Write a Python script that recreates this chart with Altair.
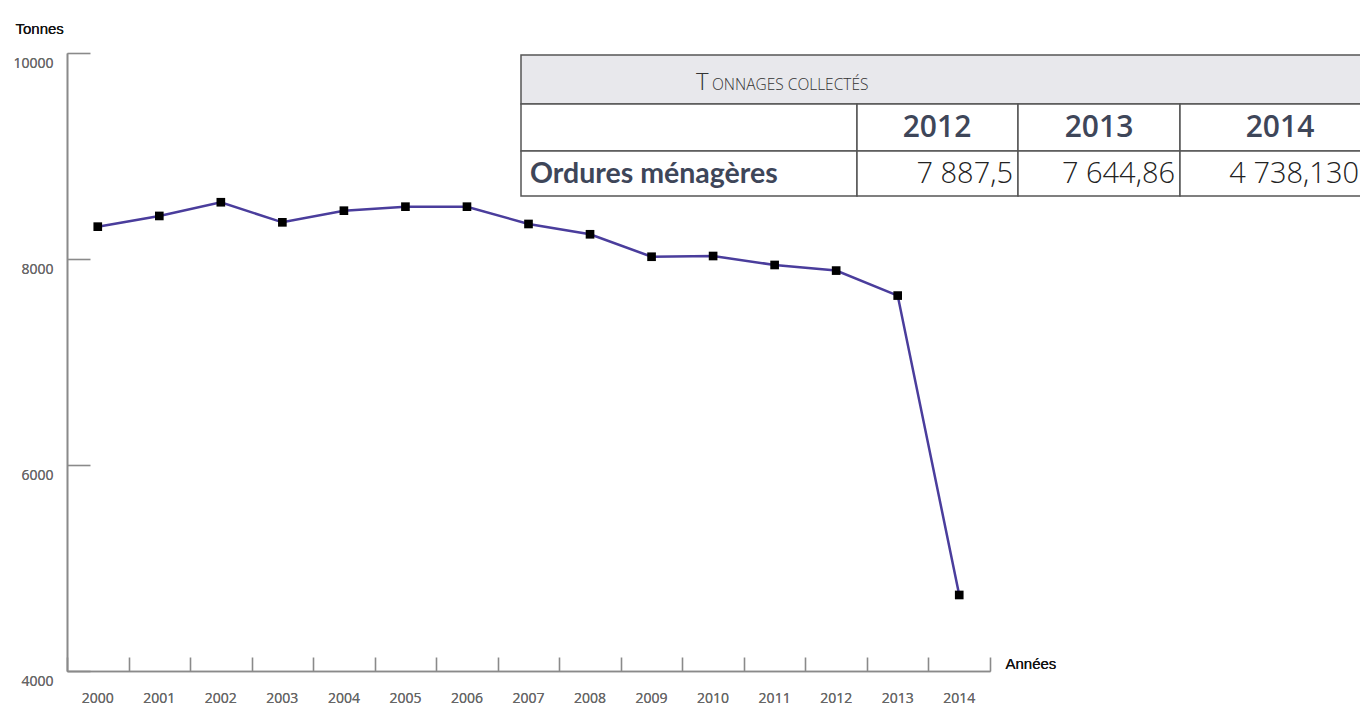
import altair as alt
import pandas as pd

years = ["2000", "2001", "2002", "2003", "2004", "2005", "2006", "2007",
         "2008", "2009", "2010", "2011", "2012", "2013", "2014"]
tonnes = [8314, 8418, 8551, 8356, 8469, 8508, 8508, 8340,
          8240, 8022, 8029, 7942, 7887.5, 7644.86, 4738.13]
y_ticks = [4000, 6000, 8000, 10000]

table_title_first = "T"
table_title_rest = "ONNAGES COLLECTÉS"
table_years = ["2012", "2013", "2014"]
table_row_label = "Ordures ménagères"
table_values = ["7 887,5", "7 644,86", "4 738,130"]

df = pd.DataFrame({"year": years, "value": tonnes})

W, H = 923, 618
AXIS_COLOR = "#8a8a8a"
LABEL_FONT = "Open Sans"
LABEL_COLOR = "#666666"

x_scale = alt.Scale(type="band", paddingInner=0, paddingOuter=0)
y_scale = alt.Scale(domain=[4000, 10000], nice=False, zero=False)

main_x_axis = alt.Axis(
    orient="bottom",
    labelAngle=0, labelFont=LABEL_FONT, labelFontSize=14, labelColor=LABEL_COLOR,
    labelPadding=20, ticks=False, tickSize=0, domain=True, domainColor=AXIS_COLOR,
    domainWidth=1.6, grid=False, title="Années", titleX=938, titleY=-8,
    titleAlign="left", titleBaseline="middle", titleFont="Liberation Sans",
    titleFontSize=15, titleFontWeight=400, titleColor="#111",
)
main_y_axis = alt.Axis(
    orient="left",
    values=y_ticks, format="d", labelFont=LABEL_FONT, labelFontSize=14,
    labelColor=LABEL_COLOR, labelPadding=14, labelOffset=10, ticks=False, tickSize=0,
    domain=True, domainColor=AXIS_COLOR, domainWidth=1.6, grid=False,
    title="Tonnes", titleAngle=0, titleX=-52, titleY=-25, titleAlign="left",
    titleBaseline="middle", titleFont="Liberation Sans", titleFontSize=15,
    titleFontWeight=400, titleColor="#111",
)
tick_x_axis = alt.Axis(
    orient="bottom",
    labels=False, domain=False, ticks=True, tickSize=14, offset=-14,
    tickBand="extent", tickColor=AXIS_COLOR, tickWidth=1.6, grid=False, title=None,
)
tick_y_axis = alt.Axis(
    orient="left",
    values=y_ticks, labels=False, domain=False, ticks=True, tickSize=23,
    offset=-23, tickColor=AXIS_COLOR, tickWidth=1.6, grid=False, title=None,
)

base = alt.Chart(df).encode(
    x=alt.X("year:O", scale=x_scale, axis=main_x_axis),
    y=alt.Y("value:Q", scale=y_scale, axis=main_y_axis),
)
line = base.mark_line(color="#4a3d9c", strokeWidth=2.5)
pts = base.mark_square(size=75, color="#000", opacity=1, filled=True)

ticks = alt.Chart(df).mark_point(opacity=0).encode(
    x=alt.X("year:O", scale=x_scale, axis=tick_x_axis),
    y=alt.Y("value:Q", scale=y_scale, axis=tick_y_axis),
)

# ---- table (layout in pixels relative to the plot area) ----
one = pd.DataFrame({"k": [0]})
col_edges = [454, 790, 951, 1113, 1320]
row_edges = [2, 51, 98, 143]
BORDER = "#555"
TXT = "#3e4659"

table_layers = []
table_layers.append(
    alt.Chart(one).mark_rect(fill="#e8e8ec", stroke=BORDER, strokeWidth=1.5).encode(
        x=alt.value(col_edges[0]), x2=alt.value(col_edges[-1]),
        y=alt.value(row_edges[0]), y2=alt.value(row_edges[1]))
)
for r in (1, 2):
    for c in range(4):
        table_layers.append(
            alt.Chart(one).mark_rect(fill="#ffffff", stroke=BORDER, strokeWidth=1.5).encode(
                x=alt.value(col_edges[c]), x2=alt.value(col_edges[c + 1]),
                y=alt.value(row_edges[r]), y2=alt.value(row_edges[r + 1]))
        )

hdr = pd.DataFrame({"a": [table_title_first], "b": [table_title_rest]})
table_layers.append(
    alt.Chart(hdr).mark_text(align="left", baseline="alphabetic", font="Open Sans",
                             fontWeight=300, fontSize=24, color="#333").encode(
        text="a:N", x=alt.value(629), y=alt.value(37))
)
table_layers.append(
    alt.Chart(hdr).mark_text(align="left", baseline="alphabetic", font="Open Sans",
                             fontWeight=300, fontSize=15.5, color="#333").encode(
        text="b:N", x=alt.value(645), y=alt.value(37))
)

yrs_df = pd.DataFrame({"y": table_years, "v": table_values})
col_centers = [870, 1032, 1213]
for i in range(3):
    sub = yrs_df.iloc[[i]]
    table_layers.append(
        alt.Chart(sub).mark_text(align="center", baseline="middle", font="Open Sans",
                                 fontWeight=600, fontSize=30, color=TXT).encode(
            text="y:N", x=alt.value(col_centers[i]), y=alt.value(75))
    )
    table_layers.append(
        alt.Chart(sub).mark_text(align="right", baseline="middle", font="Open Sans",
                                 fontWeight=300, fontSize=29, color="#222").encode(
            text="v:N", x=alt.value(col_edges[i + 2] - 5 if i < 2 else 1292), y=alt.value(121))
    )

row_df = pd.DataFrame({"t": [table_row_label]})
table_layers.append(
    alt.Chart(row_df).mark_text(align="left", baseline="middle", font="Lato",
                                fontWeight="bold", fontSize=28.5, color=TXT).encode(
        text="t:N", x=alt.value(463), y=alt.value(121))
)

chart = alt.layer(ticks, line, pts, *table_layers).resolve_axis(
    x="independent", y="independent"
).properties(
    width=W, height=H,
    autosize=alt.AutoSizeParams(type="none"),
    padding={"left": 59, "top": 45, "right": 370, "bottom": 37},
    background="white",
).configure_view(stroke=None)

chart.save("out.html", embed_options={"renderer": "svg", "actions": False})
